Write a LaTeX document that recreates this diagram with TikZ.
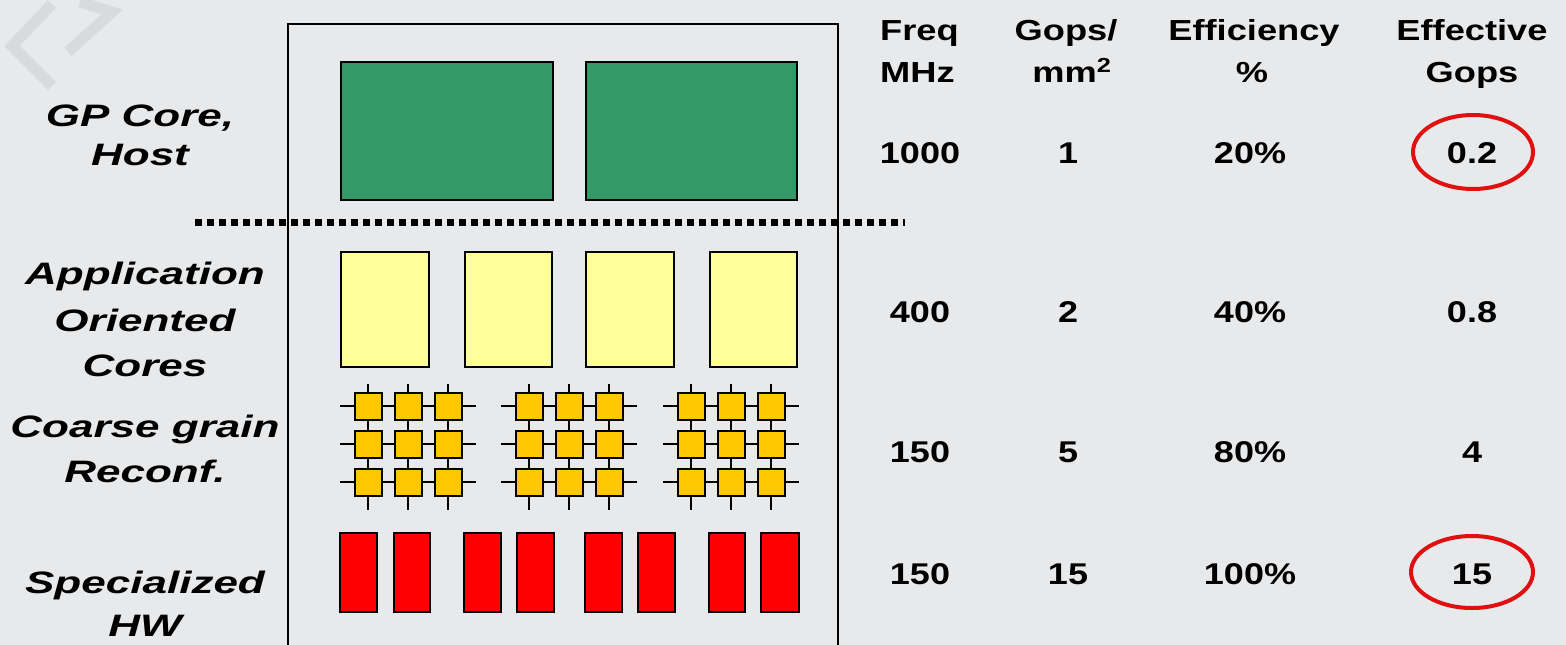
\documentclass[tikz,border=0pt]{standalone}
\usepackage{fontspec}
\setmainfont{Liberation Sans}
\definecolor{bg}{HTML}{E8E9EB}
\definecolor{wm}{HTML}{D9DADC}
\definecolor{gpgreen}{HTML}{339966}
\definecolor{aoyellow}{HTML}{FFFF99}
\definecolor{cggold}{HTML}{FFC800}
\definecolor{hwred}{HTML}{FF0000}
\definecolor{ring}{HTML}{E01010}
\newcommand{\wideL}[1]{\scalebox{1.42}[1]{#1}}
\newcommand{\wideV}[1]{\scalebox{1.2}[1]{#1}}
\newcommand{\wideH}[1]{\scalebox{1.25}[1]{#1}}
\begin{document}
\begin{tikzpicture}[x=1pt,y=-1pt,
  lbl/.style={font=\fontsize{31}{31}\selectfont\bfseries\itshape, anchor=base, inner sep=0pt},
  hdr/.style={font=\fontsize{29}{29}\selectfont\bfseries, anchor=base, inner sep=0pt},
  val/.style={font=\fontsize{30}{30}\selectfont\bfseries, anchor=base, inner sep=0pt},
  blk/.style={draw=black, line width=2pt},
  ringstyle/.style={draw=ring, line width=4pt}]
\useasboundingbox (0,0) rectangle (1566,645);
\fill[bg] (0,0) rectangle (1566,645);
% watermark
\draw[wm, line width=11pt] (52,4) -- (12,46) -- (52,86);
\draw[wm, line width=11pt] (80,2) -- (112,12) -- (68,52);
% outer frame
\draw[line width=2pt] (288,650) -- (288,24) -- (838,24) -- (838,650);
% GP cores
\fill[gpgreen] (341,62) rectangle (553,200);
\draw[blk] (341,62) rectangle (553,200);
\fill[gpgreen] (586,62) rectangle (797,200);
\draw[blk] (586,62) rectangle (797,200);
% dotted separator
\draw[line width=7pt, dash pattern=on 7pt off 5pt] (195,222) -- (905,222);
% application oriented cores
\foreach \x/\w in {341/429,465/552,586/674,710/797}{
  \fill[aoyellow] (\x,252) rectangle (\w,367);
  \draw[blk] (\x,252) rectangle (\w,367);
}
% coarse grain arrays
\foreach \o in {0,161,323}{
  \foreach \cy in {406,444,482}{
    \draw[line width=2pt] (340+\o,\cy) -- (476+\o,\cy);
  }
  \foreach \cx in {368,408,448}{
    \draw[line width=2pt] (\cx+\o,384) -- (\cx+\o,510);
  }
  \foreach \cx in {368,408,448}{
    \foreach \cy in {406,444,482}{
      \fill[cggold] (\cx+\o-13.5,\cy-13.5) rectangle (\cx+\o+13.5,\cy+13.5);
      \draw[blk] (\cx+\o-13.5,\cy-13.5) rectangle (\cx+\o+13.5,\cy+13.5);
    }
  }
}
% specialized HW
\foreach \x/\w in {340/377,394/430,464/501,517/554,585/622,638/675,709/745,761/799}{
  \fill[hwred] (\x,533) rectangle (\w,612);
  \draw[blk] (\x,533) rectangle (\w,612);
}
% left labels
\node[lbl] (l1a) at (140,126) {\wideL{GP Core,}};
\node[lbl] (l1b) at (140,165) {\wideL{Host}};
\node[lbl] (l2a) at (145,284) {\wideL{Application}};
\node[lbl] (l2b) at (145,331) {\wideL{Oriented}};
\node[lbl] (l2c) at (145,376) {\wideL{Cores}};
\node[lbl] (l3a) at (145,437) {\wideL{Coarse grain}};
\node[lbl] (l3b) at (145,482) {\wideL{Reconf.}};
\node[lbl] (l4a) at (145,593) {\wideL{Specialized}};
\node[lbl] (l4b) at (145,636) {\wideL{HW}};
% headers
\node[hdr, anchor=base west] (h1a) at (880,40) {\wideH{Freq}};
\node[hdr, anchor=base west] (h1b) at (880,82) {\wideH{MHz}};
\node[hdr] (h2a) at (1066,40) {\wideH{Gops/}};
\node[hdr] (h2b) at (1072,82) {\wideH{mm\textsuperscript{2}}};
\node[hdr] (h3a) at (1254,40) {\wideH{Efficiency}};
\node[hdr] (h3b) at (1252,82) {\wideH{\%}};
\node[hdr] (h4a) at (1472,40) {\wideH{Effective}};
\node[hdr] (h4b) at (1472,82) {\wideH{Gops}};
% values
\foreach \r/\y/\f/\g/\e/\v in {1/163/1000/1/20\%/0.2, 2/322/400/2/40\%/0.8, 3/462/150/5/80\%/4, 4/584/150/15/100\%/15}{
  \node[val] (f\r) at (920,\y) {\wideV{\f}};
  \node[val] (g\r) at (1068,\y) {\wideV{\g}};
  \node[val] (e\r) at (1250,\y) {\wideV{\e}};
  \node[val] (v\r) at (1472,\y) {\wideV{\v}};
}
% circles
\draw[ringstyle] (1473,152) ellipse [x radius=60, y radius=37];
\draw[ringstyle] (1472,572) ellipse [x radius=61, y radius=36];
\end{tikzpicture}
\end{document}
